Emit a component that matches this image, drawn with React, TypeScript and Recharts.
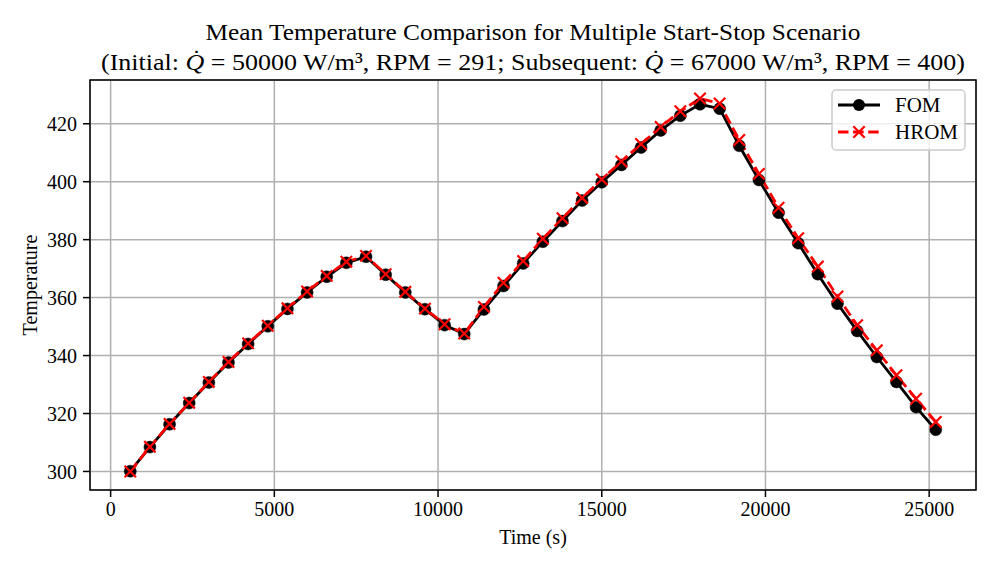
import { LineChart, Line, XAxis, YAxis, CartesianGrid, ReferenceArea } from 'recharts';

const FONT = '"Liberation Serif", "DejaVu Serif", serif';

const times = [
  600, 1200, 1800, 2400, 3000, 3600, 4200, 4800, 5400, 6000, 6600, 7200, 7800, 8400,
  9000, 9600, 10200, 10800, 11400, 12000, 12600, 13200, 13800, 14400, 15000, 15600,
  16200, 16800, 17400, 18000, 18600, 19200, 19800, 20400, 21000, 21600, 22200, 22800,
  23400, 24000, 24600, 25200,
];

const fom = [
  300.1, 308.4, 316.3, 323.6, 330.7, 337.6, 344.0, 350.1, 356.1, 361.8, 367.2, 372.0,
  374.1, 367.9, 361.8, 356.0, 350.5, 347.4, 355.9, 364.0, 371.8, 379.3, 386.4, 393.5,
  399.8, 405.8, 411.8, 417.7, 422.8, 426.7, 425.2, 412.4, 400.6, 389.3, 378.8, 368.1,
  357.9, 348.5, 339.5, 330.9, 322.2, 314.4,
];

const hrom = [
  300.0, 308.5, 316.4, 323.7, 330.9, 337.8, 344.2, 350.3, 356.3, 362.1, 367.5, 372.4,
  374.4, 368.1, 362.0, 356.2, 350.8, 347.6, 356.8, 365.1, 372.6, 380.3, 387.4, 394.4,
  400.8, 407.0, 413.0, 418.9, 424.3, 428.7, 427.0, 414.4, 402.7, 391.0, 380.5, 370.7,
  360.4, 350.5, 341.8, 333.2, 325.1, 317.1,
];

const xTicks = [0, 5000, 10000, 15000, 20000, 25000];
const yTicks = [300, 320, 340, 360, 380, 400, 420];

const data = times.map((t, i) => ({ t, fom: fom[i], hrom: hrom[i] }));

const tickStyle = { fill: '#000', fontSize: 20, fontFamily: FONT };

// red "x" marker for the HROM series
const XMark = (props: any) => {
  const { cx, cy, index } = props;
  if (cx == null || cy == null) return <g key={`x-${index}`} />;
  const s = 5.7;
  return (
    <g key={`x-${index}`} stroke="#ff0000" strokeWidth={2.2}>
      <line x1={cx - s} y1={cy - s} x2={cx + s} y2={cy + s} />
      <line x1={cx - s} y1={cy + s} x2={cx + s} y2={cy - s} />
    </g>
  );
};

const LegendBox = () => (
  <svg width={136} height={64} style={{ position: 'absolute', left: 831, top: 89 }}>
    <rect x={1} y={1} width={133} height={60} rx={4} fill="#fff" fillOpacity={0.8} stroke="#cccccc" strokeWidth={1.5} />
    <line x1={7} y1={16} x2={49} y2={16} stroke="#000" strokeWidth={2.8} />
    <circle cx={28} cy={16} r={6} fill="#000" />
    <text x={64} y={23} fontSize={21} fontFamily={FONT}>FOM</text>
    <line x1={7} y1={43} x2={49} y2={43} stroke="#ff0000" strokeWidth={2.8} strokeDasharray="10.5 4.6" />
    <g stroke="#ff0000" strokeWidth={2.2}>
      <line x1={22.3} y1={37.3} x2={33.7} y2={48.7} />
      <line x1={22.3} y1={48.7} x2={33.7} y2={37.3} />
    </g>
    <text x={64} y={50} fontSize={21} fontFamily={FONT}>HROM</text>
  </svg>
);

export default function App() {
  return (
    <div style={{ position: 'absolute', left: 0, top: 0, width: 997, height: 570, background: '#fff' }}>
      <svg width={997} height={80} style={{ position: 'absolute', left: 0, top: 0 }}>
        <text x={533} y={40} textAnchor="middle" fontSize={24} fontFamily={FONT} textLength={655} lengthAdjust="spacingAndGlyphs">
          Mean Temperature Comparison for Multiple Start-Stop Scenario
        </text>
        <text x={533} y={70} textAnchor="middle" fontSize={24} fontFamily={FONT} textLength={864} lengthAdjust="spacingAndGlyphs">
          (Initial: <tspan fontStyle="italic">Q̇</tspan> = 50000 W/m³, RPM = 291; Subsequent:{' '}
          <tspan fontStyle="italic">Q̇</tspan> = 67000 W/m³, RPM = 400)
        </text>
      </svg>
      <LineChart
        width={997}
        height={570}
        data={data}
        margin={{ top: 80, right: 21, left: 0, bottom: 0 }}
        style={{ position: 'absolute', left: 0, top: 0 }}
      >
        <CartesianGrid stroke="#b0b0b0" strokeWidth={1.5} />
        <XAxis
          dataKey="t"
          type="number"
          domain={[-630, 26430]}
          ticks={xTicks}
          allowDataOverflow
          height={80}
          axisLine={false}
          tickSize={7}
          tickMargin={5}
          tickLine={{ stroke: '#000', strokeWidth: 1.5 }}
          tick={tickStyle}
          label={{
            content: () => (
              <text x={533} y={544} textAnchor="middle" fontSize={20} fontFamily={FONT}>
                Time (s)
              </text>
            ),
          }}
        />
        <YAxis
          type="number"
          domain={[293.6, 435.1]}
          ticks={yTicks}
          allowDataOverflow
          width={90}
          axisLine={false}
          tickSize={7}
          tickMargin={6}
          tickLine={{ stroke: '#000', strokeWidth: 1.5 }}
          tick={tickStyle}
          label={{
            content: () => (
              <text
                x={30}
                y={285}
                transform="rotate(-90 30 285)"
                textAnchor="middle"
                dominantBaseline="central"
                fontSize={20}
                fontFamily={FONT}
              >
                Temperature
              </text>
            ),
          }}
        />
        <ReferenceArea x1={-630} x2={26430} y1={293.6} y2={435.1} fill="none" stroke="#000" strokeWidth={1.5} />
        <Line
          dataKey="fom"
          name="FOM"
          stroke="#000"
          strokeWidth={2.8}
          dot={{ r: 6, fill: '#000', stroke: '#000', strokeWidth: 0.5 }}
          activeDot={false}
          isAnimationActive={false}
        />
        <Line
          dataKey="hrom"
          name="HROM"
          stroke="#ff0000"
          strokeWidth={2.8}
          strokeDasharray="10.5 4.6"
          dot={XMark}
          activeDot={false}
          isAnimationActive={false}
        />
      </LineChart>
      <LegendBox />
    </div>
  );
}
